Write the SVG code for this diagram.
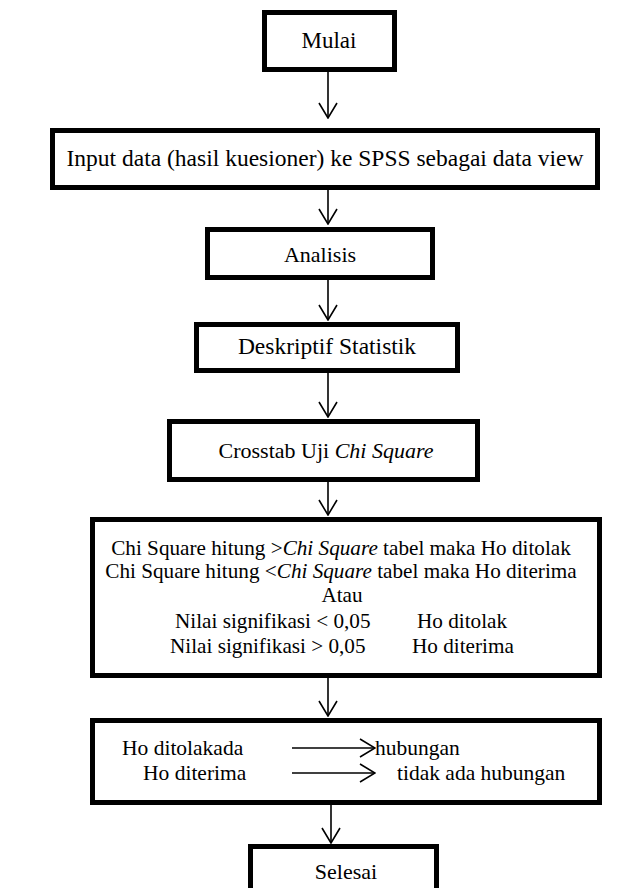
<svg xmlns="http://www.w3.org/2000/svg" width="642" height="888" viewBox="0 0 642 888">
<defs>
<marker id="ah" viewBox="0 0 17 20" refX="16" refY="10" markerWidth="17" markerHeight="20" markerUnits="userSpaceOnUse" orient="auto">
<path d="M1,1 L16,10 L1,19" fill="none" stroke="#000" stroke-width="1.6"/>
</marker>
</defs>
<style>
.box{fill:#fff;stroke:#000;stroke-width:5}
.t{font-family:"Liberation Serif","Times New Roman",serif;font-size:22px;fill:#000}
.s{font-size:21.2px}
.c{text-anchor:middle}
.con{stroke:#000;stroke-width:1.6;fill:none}
</style>
<rect width="642" height="888" fill="#fff"/>
<g id="connectors">
<line class="con" x1="328" y1="72" x2="328" y2="118" marker-end="url(#ah)"/>
<line class="con" x1="328" y1="190" x2="328" y2="224" marker-end="url(#ah)"/>
<line class="con" x1="328" y1="280" x2="328" y2="320" marker-end="url(#ah)"/>
<line class="con" x1="328" y1="373" x2="328" y2="417" marker-end="url(#ah)"/>
<line class="con" x1="328" y1="482" x2="328" y2="515" marker-end="url(#ah)"/>
<line class="con" x1="328" y1="678" x2="328" y2="716" marker-end="url(#ah)"/>
<line class="con" x1="331" y1="805" x2="331" y2="843" marker-end="url(#ah)"/>
</g>
<g id="mulai">
<rect class="box" x="264.5" y="12.5" width="130" height="57"/>
<text class="t c" x="329" y="48" style="font-size:23px">Mulai</text>
</g>
<g id="input">
<rect class="box" x="52.5" y="130.5" width="545" height="57"/>
<text class="t c" x="325" y="166" style="font-size:23.5px">Input data (hasil kuesioner) ke SPSS sebagai data view</text>
</g>
<g id="analisis">
<rect class="box" x="207.5" y="229.5" width="225" height="48"/>
<text class="t c" x="320" y="262">Analisis</text>
</g>
<g id="deskriptif">
<rect class="box" x="196.5" y="324.5" width="261" height="46"/>
<text class="t c" x="327" y="354" style="font-size:23.5px">Deskriptif Statistik</text>
</g>
<g id="crosstab">
<rect class="box" x="169.5" y="421.5" width="308" height="58"/>
<text class="t c" x="326" y="458">Crosstab Uji <tspan font-style="italic">Chi Square</tspan></text>
</g>
<g id="keputusan">
<rect class="box" x="92.5" y="519.5" width="507" height="156"/>
<text class="t s c" x="341" y="555">Chi Square hitung &gt;<tspan font-style="italic">Chi Square</tspan> tabel maka Ho ditolak</text>
<text class="t s c" x="341" y="578">Chi Square hitung &lt;<tspan font-style="italic">Chi Square</tspan> tabel maka Ho diterima</text>
<text class="t s c" x="342" y="602">Atau</text>
<text class="t s" x="175" y="628">Nilai signifikasi &lt; 0,05</text>
<text class="t s" x="417" y="628">Ho ditolak</text>
<text class="t s" x="170" y="653">Nilai signifikasi &gt; 0,05</text>
<text class="t s" x="412" y="653">Ho diterima</text>
</g>
<g id="hasil">
<rect class="box" x="92.5" y="720.5" width="507" height="82"/>
<text class="t" x="122" y="755" style="font-size:21.5px">Ho ditolakada</text>
<line class="con" x1="292" y1="748" x2="375" y2="748" marker-end="url(#ah)"/>
<text class="t" x="375" y="755" style="font-size:21.5px">hubungan</text>
<text class="t" x="143" y="780" style="font-size:21.5px">Ho diterima</text>
<line class="con" x1="292" y1="773" x2="375" y2="773" marker-end="url(#ah)"/>
<text class="t" x="397" y="780" style="font-size:21.5px">tidak ada hubungan</text>
</g>
<g id="selesai">
<rect class="box" x="250.5" y="846.5" width="186" height="52"/>
<text class="t c" x="346" y="879">Selesai</text>
</g>
</svg>
